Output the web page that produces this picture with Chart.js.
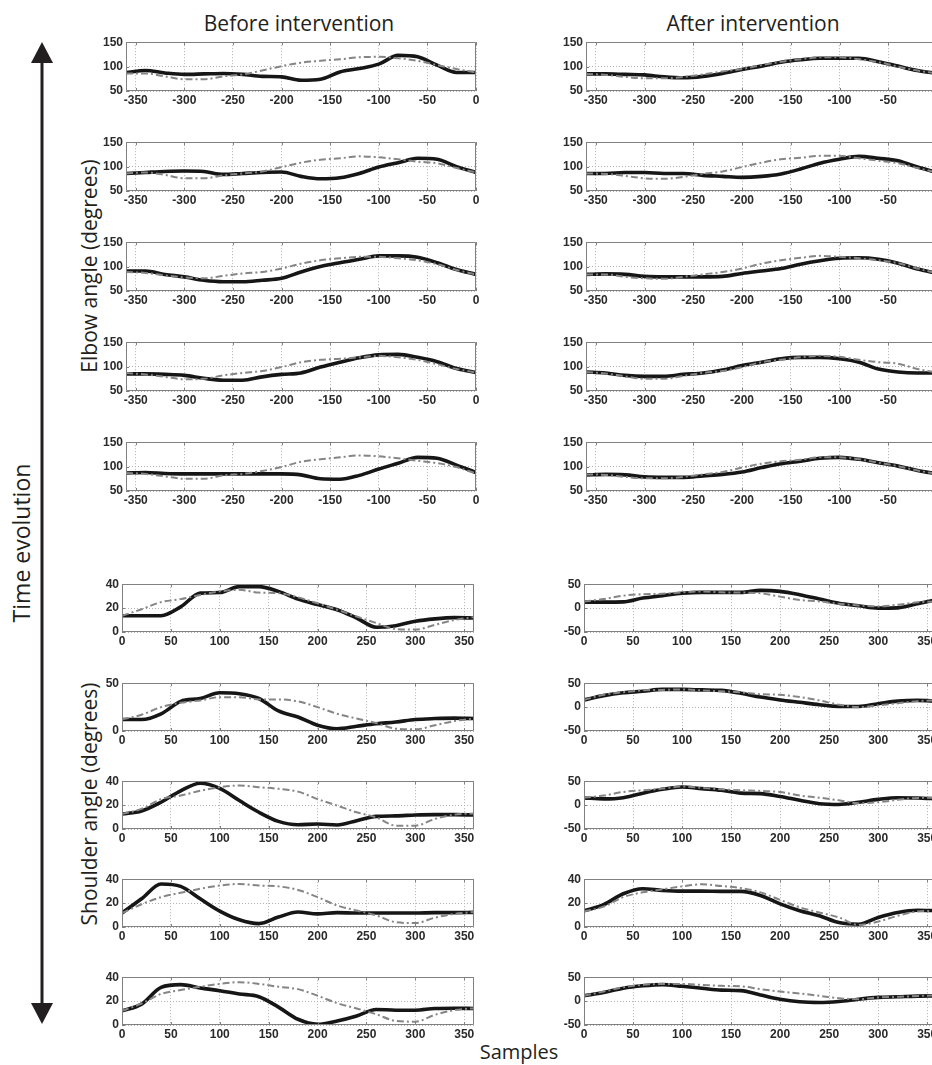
<!DOCTYPE html>
<html>
<head>
<meta charset="utf-8">
<script src="https://cdn.jsdelivr.net/npm/chart.js@4.4.0/dist/chart.umd.min.js"></script>
<style>
    html, body { margin: 0; padding: 0; background: #fff; overflow: hidden; }
    body { width: 932px; height: 1065px; position: relative; }
    canvas { position: absolute; }
    .lbl { position: absolute; font-family: "Open Sans", sans-serif; color: #231f20; white-space: nowrap; line-height: 1; }
    .mid { transform: translate(-50%, -50%); }
    .rot { transform: translate(-50%, -50%) rotate(-90deg); }
</style>
</head>
<body>
<div class="lbl mid" style="left:299px; top:23px; font-size:21px;">Before intervention</div>
<div class="lbl mid" style="left:753px; top:23px; font-size:21px;">After intervention</div>
<div class="lbl rot" style="left:89px; top:266px; font-size:21px;">Elbow angle (degrees)</div>
<div class="lbl rot" style="left:89px; top:804px; font-size:21px;">Shoulder angle (degrees)</div>
<div class="lbl rot" style="left:21px; top:543px; font-size:23px;">Time evolution</div>
<div class="lbl mid" style="left:519px; top:1052px; font-size:20px;">Samples</div>
<svg style="position:absolute; left:0; top:0;" width="80" height="1065">
    <line x1="42" y1="58" x2="42" y2="1008" stroke="#231f20" stroke-width="3"/>
    <polygon points="42,42 31,63 53,63" fill="#231f20"/>
    <polygon points="42,1024 31,1003 53,1003" fill="#231f20"/>
</svg>
<div id="panels"></div>
<script>
//sample positions
var ELBOW_X = [-360, -340, -320, -300, -280, -260, -240, -220, -200, -180,
    -160, -140, -120, -100, -80, -60, -40, -20, 0];
var SHOULDER_X = [0, 20, 40, 60, 80, 100, 120, 140, 160, 180,
    200, 220, 240, 260, 280, 300, 320, 340, 360];
//tick labels
var ELBOW_X_TICKS = [-350, -300, -250, -200, -150, -100, -50, 0];
var SHOULDER_X_TICKS = [0, 50, 100, 150, 200, 250, 300, 350];
var ELBOW_Y_TICKS = [50, 100, 150];
var SHOULDER_Y_TICKS_40 = [0, 20, 40];
var SHOULDER_Y_TICKS_50 = [0, 50];
var SHOULDER_Y_TICKS_PM50 = [-50, 0, 50];

//elbow angle before intervention (solid = patient, ref = dash-dot)
var beforeElbow1 = [88, 92, 87, 84, 85, 86, 84, 80, 79, 72, 74, 89, 96, 105, 123, 120, 103, 88, 88];
var beforeElbow1Ref = [86, 86, 80, 74, 74, 80, 84, 92, 101, 108, 112, 115, 119, 120, 117, 112, 103, 95, 88];
var beforeElbow2 = [86, 88, 90, 91, 90, 84, 86, 88, 89, 80, 75, 77, 86, 99, 108, 117, 115, 100, 88];
var beforeElbow2Ref = [86, 88, 83, 76, 76, 82, 86, 90, 99, 108, 114, 117, 121, 119, 115, 110, 107, 97, 88];
var beforeElbow3 = [91, 91, 84, 79, 72, 69, 69, 72, 76, 89, 100, 108, 115, 122, 122, 119, 108, 94, 84];
var beforeElbow3Ref = [89, 87, 82, 78, 76, 81, 86, 89, 96, 106, 113, 117, 120, 120, 117, 113, 105, 93, 84];
var beforeElbow4 = [85, 85, 84, 82, 76, 72, 72, 79, 84, 87, 99, 109, 118, 124, 125, 119, 110, 96, 88];
var beforeElbow4Ref = [87, 84, 79, 74, 75, 82, 87, 91, 99, 109, 114, 116, 119, 122, 119, 114, 105, 95, 88];
var beforeElbow5 = [87, 88, 86, 85, 85, 85, 85, 85, 85, 83, 75, 74, 82, 95, 107, 119, 117, 103, 88];
var beforeElbow5Ref = [87, 85, 80, 75, 75, 82, 85, 91, 99, 110, 115, 119, 123, 121, 117, 112, 107, 99, 86];

//elbow angle after intervention
var afterElbow1 = [85, 85, 84, 83, 79, 77, 80, 86, 94, 101, 109, 114, 117, 117, 117, 110, 101, 92, 86];
var afterElbow1Ref = [85, 83, 79, 76, 76, 79, 84, 90, 95, 103, 110, 115, 119, 119, 115, 109, 100, 92, 86];
var afterElbow2 = [86, 86, 88, 88, 86, 86, 82, 80, 78, 80, 85, 95, 107, 115, 121, 117, 112, 99, 88];
var afterElbow2Ref = [86, 85, 81, 76, 75, 79, 85, 90, 99, 108, 115, 118, 122, 122, 117, 112, 107, 97, 88];
var afterElbow3 = [84, 85, 84, 80, 79, 79, 79, 80, 86, 91, 96, 105, 112, 117, 118, 115, 107, 95, 86];
var afterElbow3Ref = [84, 84, 79, 76, 75, 79, 84, 89, 96, 106, 113, 118, 122, 120, 117, 113, 107, 96, 86];
var afterElbow4 = [89, 87, 82, 80, 80, 84, 87, 93, 102, 109, 116, 119, 119, 116, 109, 95, 89, 87, 87];
var afterElbow4Ref = [89, 86, 80, 75, 75, 81, 87, 91, 99, 109, 114, 119, 122, 120, 114, 109, 106, 95, 88];
var afterElbow5 = [83, 84, 83, 79, 78, 78, 81, 84, 89, 98, 106, 111, 117, 119, 115, 108, 101, 92, 85];
var afterElbow5Ref = [84, 83, 79, 76, 76, 79, 84, 89, 98, 106, 111, 114, 119, 119, 115, 108, 101, 92, 85];

//shoulder angle before intervention
var beforeShoulder1 = [13.6, 13.6, 13.6, 21, 32.5, 33, 38, 38, 34, 27.5, 23, 18.6, 11.7, 4, 5.3, 9, 11, 12, 11.7];
var beforeShoulder1Ref = [13.6, 19, 25, 27.5, 31, 34, 35.3, 33, 32.5, 29, 24, 18.6, 13, 7.5, 2.5, 2, 6, 10, 12.5];
var beforeShoulder2 = [12, 12, 18, 31, 34, 40, 39, 34, 21, 14.6, 6, 2.4, 5, 7.6, 9.4, 12, 13, 13.5, 13];
var beforeShoulder2Ref = [12, 17, 25, 29.5, 32, 35.4, 35.4, 33, 33, 31, 25, 18, 13, 8.3, 2.4, 1.7, 6, 10.4, 13];
var beforeShoulder3 = [12.6, 15, 22.4, 32, 38.3, 34, 23.8, 14, 6.4, 3.6, 4.2, 3.4, 7, 10.6, 11, 11.7, 12, 12, 11.7];
var beforeShoulder3Ref = [12.6, 16.8, 25, 28, 32, 35, 36.4, 35, 33.6, 31.3, 25, 19.6, 14, 9.8, 2.8, 2.8, 8.4, 12, 13];
var beforeShoulder4 = [11.7, 23.6, 36, 34, 23.6, 13.3, 6, 2.8, 8.3, 12.5, 11, 12, 11.7, 11.7, 11.7, 11.7, 12, 12, 12.2];
var beforeShoulder4Ref = [11.7, 19, 25, 28.6, 32, 34.7, 36, 34.7, 34, 31, 25, 18, 13.8, 9.7, 4, 3.3, 7.8, 11, 12.5];
var beforeShoulder5 = [11.8, 17.5, 31.5, 33.8, 31, 28.7, 26, 23.7, 15, 4.8, 0.6, 3.4, 7.6, 13, 12.4, 12.4, 13.8, 14, 13.8];
var beforeShoulder5Ref = [11.8, 18, 26, 29.3, 32, 34.4, 35.8, 34.4, 32, 30, 24.5, 18.3, 13.8, 9, 3.4, 2.8, 8.5, 12.4, 14];

//shoulder angle after intervention
var afterShoulder1 = [12.5, 12.5, 13, 21, 26, 31, 33, 33, 33, 37, 35, 28, 19, 10, 5, 0, 0.5, 9, 18];
var afterShoulder1Ref = [14, 19, 26, 29, 30, 33, 35, 33, 32.6, 31, 24, 17, 14, 9, 5.6, 3.5, 7, 12, 14];
var afterShoulder2 = [15, 24, 30, 33, 37, 37, 36, 35, 29, 21, 15, 10, 5, 1.4, 1.4, 7, 12.5, 14, 12.5];
var afterShoulder2Ref = [15, 25.7, 31, 35, 36, 37, 35, 33, 31, 27, 25.7, 21, 14, 5, 0, 3.5, 8, 12.5, 14];
var afterShoulder3 = [15, 13, 15.5, 25, 33, 38, 34.5, 31, 25, 24, 18, 10, 3, 1.4, 6, 12, 15.5, 15, 13];
var afterShoulder3Ref = [15.5, 20, 27.5, 31, 34.5, 39, 36, 33, 31, 29.6, 27.5, 20, 15.5, 10, 4, 6, 11, 15, 15.5];
var afterShoulder4 = [13.6, 18.7, 27.8, 32, 30.6, 30, 30, 29.8, 29.8, 26.4, 19.3, 13.6, 9.4, 3.7, 2.3, 8, 12.2, 14, 13.6];
var afterShoulder4Ref = [13, 17, 25, 29, 31.5, 34, 35.7, 34.3, 32.6, 29, 22.7, 16.5, 12.2, 8, 1.7, 4.5, 9.4, 13, 13.6];
var afterShoulder5 = [11, 18, 27, 32, 34.5, 31, 27, 23, 22, 13, 4, -1.4, -2.8, -0.7, 4, 7.7, 9, 10.5, 11];
var afterShoulder5Ref = [11, 20, 29, 34, 36, 36, 34, 32, 31, 25, 20, 16, 11, 6, 4, 7.7, 9, 10.5, 12.5];

var TICK_FONT = { family: '"Liberation Sans Narrow", "Arial Narrow", "Liberation Sans", sans-serif', size: 12, weight: 'bold' };
var PAD_LEFT = 40, PAD_TOP = 10, PAD_RIGHT = 10, PAD_BOTTOM = 22;

//box around plot area with small inner ticks, like matlab axes
var framePlugin = {
    id: 'frame',
    afterDraw: function (chart) {
        var a = chart.chartArea;
        var ctx = chart.ctx;
        var sx = chart.scales.x, sy = chart.scales.y;
        ctx.save();
        ctx.strokeStyle = '#808080';
        ctx.lineWidth = 1;
        ctx.beginPath();
        ctx.rect(Math.round(a.left) + 0.5, Math.round(a.top) + 0.5,
            Math.round(a.right - a.left) - 1, Math.round(a.bottom - a.top) - 1);
        sx.ticks.forEach(function (t) {
            var px = Math.round(sx.getPixelForValue(t.value)) + 0.5;
            ctx.moveTo(px, a.bottom); ctx.lineTo(px, a.bottom - 3);
            ctx.moveTo(px, a.top); ctx.lineTo(px, a.top + 3);
        });
        sy.ticks.forEach(function (t) {
            var py = Math.round(sy.getPixelForValue(t.value)) + 0.5;
            ctx.moveTo(a.left, py); ctx.lineTo(a.left + 3, py);
        });
        ctx.stroke();
        ctx.restore();
    }
};

function toPoints(xs, ys) {
    return xs.map(function (x, i) { return { x: x, y: ys[i] }; });
}

function panelConfig(xs, actual, ref, xTicks, yTicks) {
    return {
        type: 'line',
        data: {
            datasets: [
                {
                    label: 'Reference',
                    data: toPoints(xs, ref),
                    borderColor: '#858585',
                    borderWidth: 2,
                    borderDash: [7, 3, 2, 3],
                    pointRadius: 0,
                    cubicInterpolationMode: 'monotone'
                },
                {
                    label: 'Patient',
                    data: toPoints(xs, actual),
                    borderColor: '#161616',
                    borderWidth: 3.6,
                    pointRadius: 0,
                    cubicInterpolationMode: 'monotone'
                }
            ]
        },
        options: {
            responsive: false,
            animation: false,
            devicePixelRatio: 1,
            layout: { padding: { top: PAD_TOP, right: PAD_RIGHT, left: 0, bottom: 0 } },
            plugins: { legend: { display: false }, tooltip: { enabled: false } },
            scales: {
                x: {
                    type: 'linear',
                    min: xs[0],
                    max: xs[xs.length - 1],
                    afterBuildTicks: function (s) { s.ticks = xTicks.map(function (v) { return { value: v }; }); },
                    afterFit: function (s) { s.height = PAD_BOTTOM; },
                    grid: { color: '#b0b0b0', lineWidth: 1, drawTicks: false },
                    border: { display: false, dash: [1, 2] },
                    ticks: { font: TICK_FONT, color: '#2a2a2a', padding: 2, maxRotation: 0, autoSkip: false }
                },
                y: {
                    min: yTicks[0],
                    max: yTicks[yTicks.length - 1],
                    afterBuildTicks: function (s) { s.ticks = yTicks.map(function (v) { return { value: v }; }); },
                    afterFit: function (s) { s.width = PAD_LEFT; },
                    grid: { color: '#b0b0b0', lineWidth: 1, drawTicks: false },
                    border: { display: false, dash: [1, 2] },
                    ticks: { font: TICK_FONT, color: '#2a2a2a', padding: 3, autoSkip: false }
                }
            }
        },
        plugins: [framePlugin]
    };
}

//panel list: data + where the plot box sits on the page
var panels = [
    { xs: ELBOW_X, a: beforeElbow1, r: beforeElbow1Ref, xt: ELBOW_X_TICKS, yt: ELBOW_Y_TICKS, left: 126, top: 42, w: 350, h: 49 },
    { xs: ELBOW_X, a: beforeElbow2, r: beforeElbow2Ref, xt: ELBOW_X_TICKS, yt: ELBOW_Y_TICKS, left: 126, top: 142, w: 350, h: 49 },
    { xs: ELBOW_X, a: beforeElbow3, r: beforeElbow3Ref, xt: ELBOW_X_TICKS, yt: ELBOW_Y_TICKS, left: 126, top: 242, w: 350, h: 49 },
    { xs: ELBOW_X, a: beforeElbow4, r: beforeElbow4Ref, xt: ELBOW_X_TICKS, yt: ELBOW_Y_TICKS, left: 126, top: 342, w: 350, h: 49 },
    { xs: ELBOW_X, a: beforeElbow5, r: beforeElbow5Ref, xt: ELBOW_X_TICKS, yt: ELBOW_Y_TICKS, left: 126, top: 442, w: 350, h: 49 },
    { xs: ELBOW_X, a: afterElbow1, r: afterElbow1Ref, xt: ELBOW_X_TICKS, yt: ELBOW_Y_TICKS, left: 586, top: 42, w: 351, h: 49 },
    { xs: ELBOW_X, a: afterElbow2, r: afterElbow2Ref, xt: ELBOW_X_TICKS, yt: ELBOW_Y_TICKS, left: 586, top: 142, w: 351, h: 49 },
    { xs: ELBOW_X, a: afterElbow3, r: afterElbow3Ref, xt: ELBOW_X_TICKS, yt: ELBOW_Y_TICKS, left: 586, top: 242, w: 351, h: 49 },
    { xs: ELBOW_X, a: afterElbow4, r: afterElbow4Ref, xt: ELBOW_X_TICKS, yt: ELBOW_Y_TICKS, left: 586, top: 342, w: 351, h: 49 },
    { xs: ELBOW_X, a: afterElbow5, r: afterElbow5Ref, xt: ELBOW_X_TICKS, yt: ELBOW_Y_TICKS, left: 586, top: 442, w: 351, h: 49 },
    { xs: SHOULDER_X, a: beforeShoulder1, r: beforeShoulder1Ref, xt: SHOULDER_X_TICKS, yt: SHOULDER_Y_TICKS_40, left: 122, top: 584, w: 352, h: 48 },
    { xs: SHOULDER_X, a: beforeShoulder2, r: beforeShoulder2Ref, xt: SHOULDER_X_TICKS, yt: SHOULDER_Y_TICKS_50, left: 122, top: 683, w: 352, h: 48 },
    { xs: SHOULDER_X, a: beforeShoulder3, r: beforeShoulder3Ref, xt: SHOULDER_X_TICKS, yt: SHOULDER_Y_TICKS_40, left: 122, top: 781, w: 352, h: 48 },
    { xs: SHOULDER_X, a: beforeShoulder4, r: beforeShoulder4Ref, xt: SHOULDER_X_TICKS, yt: SHOULDER_Y_TICKS_40, left: 122, top: 879, w: 352, h: 48 },
    { xs: SHOULDER_X, a: beforeShoulder5, r: beforeShoulder5Ref, xt: SHOULDER_X_TICKS, yt: SHOULDER_Y_TICKS_40, left: 122, top: 977, w: 352, h: 48 },
    { xs: SHOULDER_X, a: afterShoulder1, r: afterShoulder1Ref, xt: SHOULDER_X_TICKS, yt: SHOULDER_Y_TICKS_PM50, left: 584, top: 584, w: 353, h: 48 },
    { xs: SHOULDER_X, a: afterShoulder2, r: afterShoulder2Ref, xt: SHOULDER_X_TICKS, yt: SHOULDER_Y_TICKS_PM50, left: 584, top: 683, w: 353, h: 48 },
    { xs: SHOULDER_X, a: afterShoulder3, r: afterShoulder3Ref, xt: SHOULDER_X_TICKS, yt: SHOULDER_Y_TICKS_PM50, left: 584, top: 781, w: 353, h: 48 },
    { xs: SHOULDER_X, a: afterShoulder4, r: afterShoulder4Ref, xt: SHOULDER_X_TICKS, yt: SHOULDER_Y_TICKS_40, left: 584, top: 879, w: 353, h: 48 },
    { xs: SHOULDER_X, a: afterShoulder5, r: afterShoulder5Ref, xt: SHOULDER_X_TICKS, yt: SHOULDER_Y_TICKS_PM50, left: 584, top: 977, w: 353, h: 48 }
];

var holder = document.getElementById('panels');
panels.forEach(function (p) {
    var canvas = document.createElement('canvas');
    canvas.width = p.w + PAD_LEFT + PAD_RIGHT;
    canvas.height = p.h + PAD_TOP + PAD_BOTTOM;
    canvas.style.left = (p.left - PAD_LEFT) + 'px';
    canvas.style.top = (p.top - PAD_TOP) + 'px';
    holder.appendChild(canvas);
    new Chart(canvas, panelConfig(p.xs, p.a, p.r, p.xt, p.yt));
});
</script>
</body>
</html>
